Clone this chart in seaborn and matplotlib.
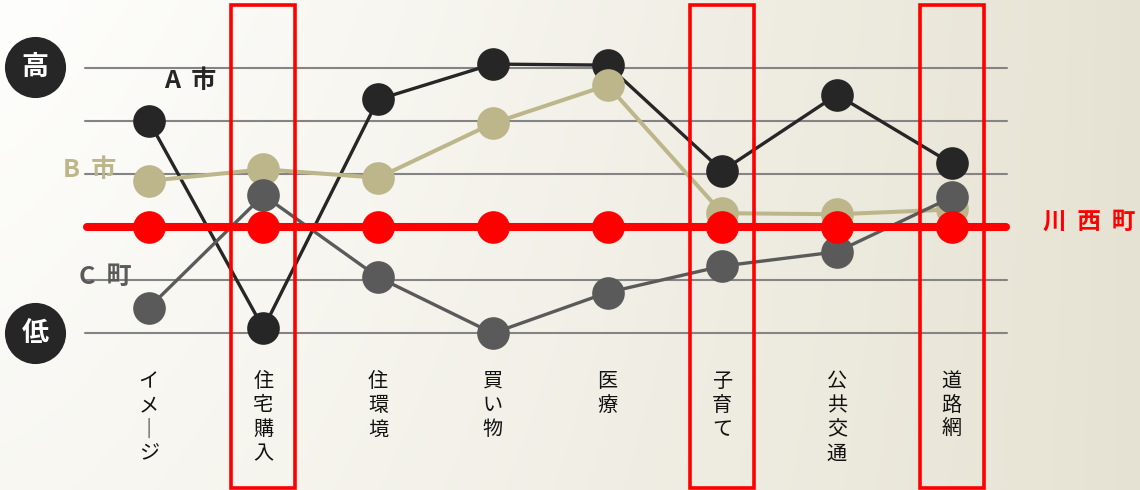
import numpy as np
import pandas as pd
import matplotlib
matplotlib.use("Agg")
import matplotlib.pyplot as plt
import seaborn as sns

# ---------------- data ----------------
categories = ["イメージ", "住宅購入", "住環境", "買い物", "医療", "子育て", "公共交通", "道路網"]
series_a = [4.01, 0.08, 4.41, 5.08, 5.06, 3.06, 4.50, 3.20]   # A市
series_b = [2.87, 3.09, 2.93, 3.96, 4.68, 2.26, 2.24, 2.33]   # B市
series_c = [0.47, 2.60, 1.05, -0.01, 0.76, 1.26, 1.53, 2.56]  # C町
series_k = [2, 2, 2, 2, 2, 2, 2, 2]                            # 川西町
grid_levels = [0, 1, 2, 3, 4, 5]
highlight_idx = [1, 5, 7]
series_names = ["A市", "B市", "C町", "川西町"]
series_labels = ["A  市", "B  市", "C  町", "川  西  町"]

# ---------------- style ----------------
sns.set_theme(style="white")
plt.rcParams["font.family"] = ["Noto Sans CJK JP", "DejaVu Sans"]

W, H = 1140, 490
fig = plt.figure(figsize=(W / 100, H / 100), dpi=100)
ax = fig.add_axes([0, 0, 1, 1])

# pixel mapping helpers (category index / value)
x0, dx = 148.7, 114.7
y0, dy = 332.7, 52.88
ax.set_xlim((0 - x0) / dx, (W - x0) / dx)
ax.set_ylim((y0 - H) / dy, y0 / dy)
ax.axis("off")

# background gradient
nx, ny = 400, 200
gx = np.linspace(0, 1, nx)[None, :]
gy = np.linspace(0, 1, ny)[:, None]  # 0 at top
t = np.clip(0.95 * gx ** 1.2 + 0.22 * gy * (1 - gx), 0, 1)
c0 = np.array([254, 254, 252]) / 255
c1 = np.array([229, 225, 209]) / 255
img = c0[None, None, :] * (1 - t[..., None]) + c1[None, None, :] * t[..., None]
xl, yl = ax.get_xlim(), ax.get_ylim()
ax.imshow(img, extent=[xl[0], xl[1], yl[0], yl[1]], aspect="auto", zorder=0, origin="upper")

# gridlines
gx0, gx1 = (85 - x0) / dx, (1007 - x0) / dx
for lv in grid_levels:
    ax.plot([gx0, gx1], [lv, lv], color="#848484", lw=1.5, zorder=1)

idx = np.arange(len(categories))
df = pd.DataFrame({"x": np.tile(idx, 4),
                   "v": series_a + series_b + series_c + series_k,
                   "s": np.repeat(series_names, len(categories))})

styles = [
    ("A市", "#262626", 2.4, 2),
    ("B市", "#bcb68a", 2.9, 3),
    ("C町", "#5a5a5a", 2.4, 4),
]
for name, col, lw, z in styles:
    sub = df[df.s == name]
    sns.lineplot(data=sub, x="x", y="v", ax=ax, color=col, lw=lw, marker="o",
                 markersize=23.5, markeredgewidth=0, zorder=z, legend=False)

# red line (Kawanishi)
sub = df[df.s == series_names[3]]
ax.plot([(84 - x0) / dx + 0.03, (1009 - x0) / dx - 0.03], [2, 2], color="#ff0000",
        lw=5.8, solid_capstyle="round", zorder=5)
sns.scatterplot(data=sub, x="x", y="v", ax=ax, color="#ff0000", s=23.5 ** 2,
                linewidth=0, zorder=6, legend=False)

# highlight boxes
hw = 32 / dx
ytop, ybot = (y0 - 5) / dy, (y0 - 488) / dy
for i in highlight_idx:
    ax.add_patch(plt.Rectangle((i - hw, ybot), 2 * hw, ytop - ybot, fill=False,
                               edgecolor="#ff0000", lw=2.6, zorder=8))

# category labels (vertical)
for i, c in enumerate(categories):
    chars = ["｜" if ch == "ー" else ch for ch in c]
    ax.text(i, (y0 - 371) / dy, "\n".join(chars), ha="center", va="top",
            fontsize=14.5, color="#111111", linespacing=1.2, zorder=9)

# high / low markers
xh = (35 - x0) / dx
ax.scatter([xh, xh], [5.02, 0.0], s=44 ** 2, color="#262626", zorder=9, linewidths=0)
ax.text(xh, 5.02, "高", ha="center", va="center", color="white", fontsize=19.5,
        fontweight="bold", zorder=10)
ax.text(xh, 0.0, "低", ha="center", va="center", color="white", fontsize=19.5,
        fontweight="bold", zorder=10)

# series labels
ax.text((190 - x0) / dx, (y0 - 81) / dy, series_labels[0], ha="center", va="center",
        fontsize=18, fontweight="bold", color="#262626", zorder=9)
ax.text((90 - x0) / dx, (y0 - 170) / dy, series_labels[1], ha="center", va="center",
        fontsize=18, fontweight="bold", color="#bcb68a", zorder=9)
ax.text((105 - x0) / dx, (y0 - 277) / dy, series_labels[2], ha="center", va="center",
        fontsize=18, fontweight="bold", color="#5a5a5a", zorder=9)
ax.text((1089 - x0) / dx, (y0 - 222) / dy, series_labels[3], ha="center", va="center",
        fontsize=17, fontweight="bold", color="#ff0000", zorder=9)

fig.savefig("out.png", dpi=100)
